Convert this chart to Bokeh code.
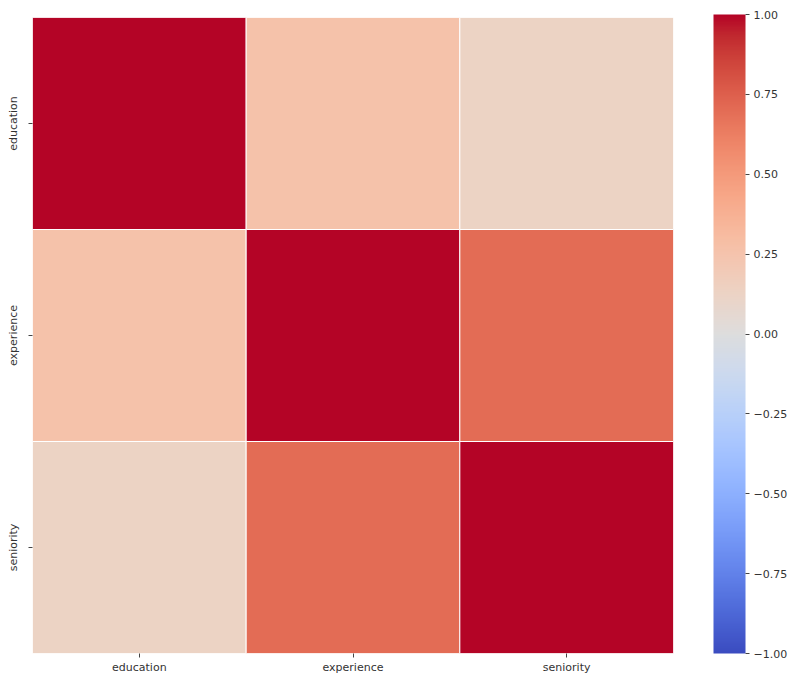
from bokeh.plotting import figure
from bokeh.models import (ColumnDataSource, LinearColorMapper, ColorBar,
                          FixedTicker, CustomJSTickFormatter, FactorRange)
from bokeh.embed import file_html
from bokeh.resources import INLINE

# Correlation matrix of the three features
features = ["education", "experience", "seniority"]
corr_education = [1.00, 0.26, 0.13]
corr_experience = [0.26, 1.00, 0.70]
corr_seniority = [0.13, 0.70, 1.00]
colorbar_ticks = [-1.0, -0.75, -0.5, -0.25, 0.0, 0.25, 0.5, 0.75, 1.0]

# Moreland cool-warm diverging map, control points (0..1 -> RGB)
coolwarm_pts = [
    (59, 76, 192), (68, 90, 204), (77, 104, 215), (87, 117, 225),
    (98, 130, 234), (108, 142, 241), (119, 154, 247), (130, 165, 251),
    (141, 176, 254), (152, 185, 255), (163, 194, 255), (174, 201, 253),
    (184, 208, 249), (194, 213, 244), (204, 217, 238), (213, 219, 230),
    (221, 221, 221), (229, 216, 209), (236, 211, 197), (241, 204, 185),
    (245, 196, 173), (247, 187, 160), (247, 177, 148), (247, 166, 135),
    (244, 154, 123), (241, 141, 111), (236, 127, 99), (229, 112, 88),
    (222, 96, 77), (213, 80, 66), (203, 62, 56), (192, 40, 47), (180, 4, 38),
]


def build_palette(pts, n=256):
    out = []
    m = len(pts) - 1
    for i in range(n):
        t = i / (n - 1) * m
        k = min(int(t), m - 1)
        f = t - k
        c = [round(pts[k][j] + (pts[k + 1][j] - pts[k][j]) * f) for j in range(3)]
        out.append("#%02x%02x%02x" % tuple(c))
    return out


palette = build_palette(coolwarm_pts)

rows = [corr_education, corr_experience, corr_seniority]
xs, ys, vals = [], [], []
for r, row_name in enumerate(features):
    for c, col_name in enumerate(features):
        xs.append(col_name)
        ys.append(row_name)
        vals.append(rows[r][c])
source = ColumnDataSource(dict(x=xs, y=ys, v=vals))

mapper = LinearColorMapper(palette=palette, low=-1, high=1)

p = figure(
    x_range=FactorRange(*features),
    y_range=FactorRange(*features[::-1]),
    frame_width=641, frame_height=636,
    min_border_left=32, min_border_top=17, min_border_bottom=21,
    min_border_right=110,
    output_backend="svg", toolbar_location=None,
)
p.rect(x="x", y="y", width=1, height=1, source=source,
       fill_color={"field": "v", "transform": mapper},
       line_color="white", line_width=1)

p.outline_line_color = None
p.grid.grid_line_color = None
for ax in (p.xaxis, p.yaxis):
    ax.axis_line_color = None
    ax.major_tick_line_color = "#444444"
    ax.major_tick_out = 4
    ax.major_tick_in = 0
    ax.minor_tick_line_color = None
    ax.major_label_text_font = "DejaVu Sans"
    ax.major_label_text_font_size = "11px"
    ax.major_label_text_color = "#333333"
p.xaxis.major_label_standoff = 3
p.yaxis.major_label_standoff = 9
p.yaxis.major_label_orientation = "vertical"

formatter = CustomJSTickFormatter(
    code="return tick.toFixed(2).replace('-', '\u2212');")
cbar = ColorBar(
    color_mapper=mapper, width=32, height=639,
    location=(40, 0), padding=0, margin=0,
    ticker=FixedTicker(ticks=colorbar_ticks), formatter=formatter,
    major_tick_out=4, major_tick_in=0, major_tick_line_color="#444444",
    major_label_text_font="DejaVu Sans", major_label_text_font_size="11px",
    major_label_text_color="#333333", label_standoff=4,
    bar_line_color=None, background_fill_color=None,
)
p.add_layout(cbar, "right")

open("out.html", "w").write(file_html(p, INLINE))
